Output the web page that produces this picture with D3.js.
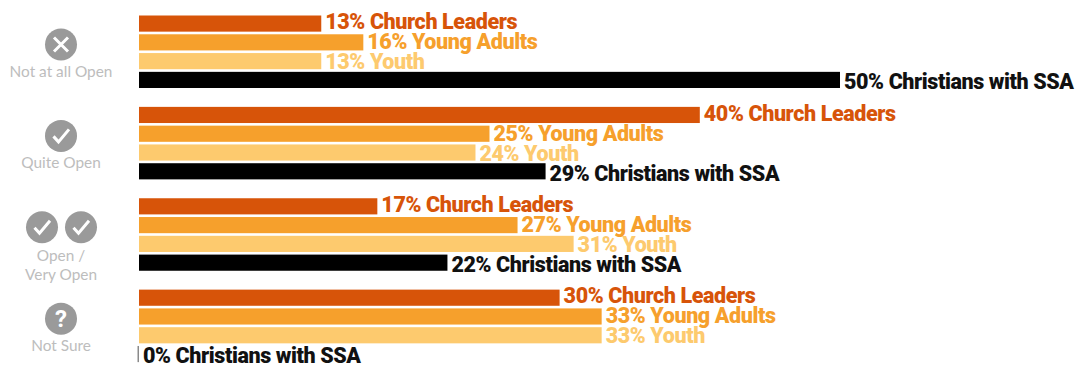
<!DOCTYPE html>
<html>
<head>
<meta charset="utf-8">
<script src="https://cdn.jsdelivr.net/npm/d3@7/dist/d3.min.js"></script>
<style>
html,body{margin:0;padding:0;background:#fff;}
svg{display:block;}
</style>
</head>
<body>
<svg id="chart" width="1078" height="367"></svg>
<script>
const categories = ["Not at all Open", "Quite Open", "Open / Very Open", "Not Sure"];
const seriesNames = ["Church Leaders", "Young Adults", "Youth", "Christians with SSA"];
const seriesColors = ["#d75409", "#f6a02c", "#fdca6e", "#000000"];
const churchLeaders = [13, 40, 17, 30];
const youngAdults = [16, 25, 27, 33];
const youth = [13, 24, 31, 33];
const christiansWithSSA = [50, 29, 22, 0];
const seriesValues = [churchLeaders, youngAdults, youth, christiansWithSSA];
const categoryLines = [["Not at all Open"], ["Quite Open"], ["Open /", "Very Open"], ["Not Sure"]];
const categoryIcons = [["cross"], ["check"], ["check", "check"], ["question"]];

const svg = d3.select("#chart");
const x = d3.scaleLinear().domain([0, 50]).range([139, 840]);
const yGroup = d3.scaleBand().domain(categories).range([15.5, 381]);
const yBar = d3.scaleBand().domain(seriesNames).range([0, 72.5]).paddingInner(0.14).paddingOuter(0);
// Value labels run on a slightly looser pitch than the bars they annotate
const yLabel = d3.scalePoint().domain(seriesNames).range([6, 66]);
const labelFont = "Roboto, 'Liberation Sans', sans-serif";

const groups = svg.selectAll("g.group")
  .data(categories)
  .join("g")
  .attr("class", "group")
  .attr("transform", d => `translate(0,${yGroup(d)})`);

groups.each(function (cat, ci) {
  const g = d3.select(this);
  const rows = seriesNames.map((name, si) => ({
    name, value: seriesValues[si][ci], color: seriesColors[si]
  }));

  g.selectAll("rect")
    .data(rows)
    .join("rect")
    .attr("x", d => d.value === 0 ? x(0) - 1.5 : x(0))
    .attr("y", d => yBar(d.name))
    .attr("width", d => d.value === 0 ? 1.5 : x(d.value) - x(0))
    .attr("height", yBar.bandwidth())
    .attr("fill", d => d.value === 0 ? "#8a8a8a" : d.color);

  g.selectAll("text.value")
    .data(rows)
    .join("text")
    .attr("class", "value")
    .attr("x", d => x(d.value) + 4)
    .attr("y", d => yLabel(d.name))
    .attr("dy", "0.36em")
    .attr("font-family", labelFont)
    .attr("font-weight", 900)
    .attr("font-size", 21.5)
    .attr("letter-spacing", "-0.4")
    .attr("fill", d => d.color === "#000000" ? "#111" : d.color)
    .text(d => `${d.value}% ${d.name}`);

  // Category caption beneath the icon
  const lines = categoryLines[ci];
  const captionTop = lines.length > 1 ? 57.5 : 56;
  g.selectAll("text.caption")
    .data(lines)
    .join("text")
    .attr("class", "caption")
    .attr("x", 61)
    .attr("y", (d, i) => captionTop + i * 19)
    .attr("dy", "0.36em")
    .attr("text-anchor", "middle")
    .attr("font-family", "Lato, 'Noto Sans', sans-serif")
    .attr("font-size", 15.4)
    .attr("fill", "#bdbdbd")
    .text(d => d);

  // Round grey status icons
  const icons = categoryIcons[ci];
  const centers = icons.length > 1 ? [42, 81] : [61];
  icons.forEach((kind, i) => {
    const ic = g.append("g")
      .attr("transform", `translate(${centers[i]},${29})`);
    ic.append("circle").attr("r", 16).attr("fill", "#9a9a9a");
    if (kind === "cross") {
      ic.append("path").attr("d", "M-7,-7L7,7M7,-7L-7,7")
        .attr("stroke", "#fff").attr("stroke-width", 3).attr("fill", "none");
    } else if (kind === "check") {
      ic.append("path").attr("d", "M-7.5,0.5L-2.5,6L8,-6.5")
        .attr("stroke", "#fff").attr("stroke-width", 3).attr("fill", "none");
    } else {
      ic.append("text")
        .attr("text-anchor", "middle").attr("dy", "0.36em")
        .attr("font-family", labelFont).attr("font-weight", 700)
        .attr("font-size", 24).attr("fill", "#fff").text("?");
    }
  });
});
</script>
</body>
</html>
